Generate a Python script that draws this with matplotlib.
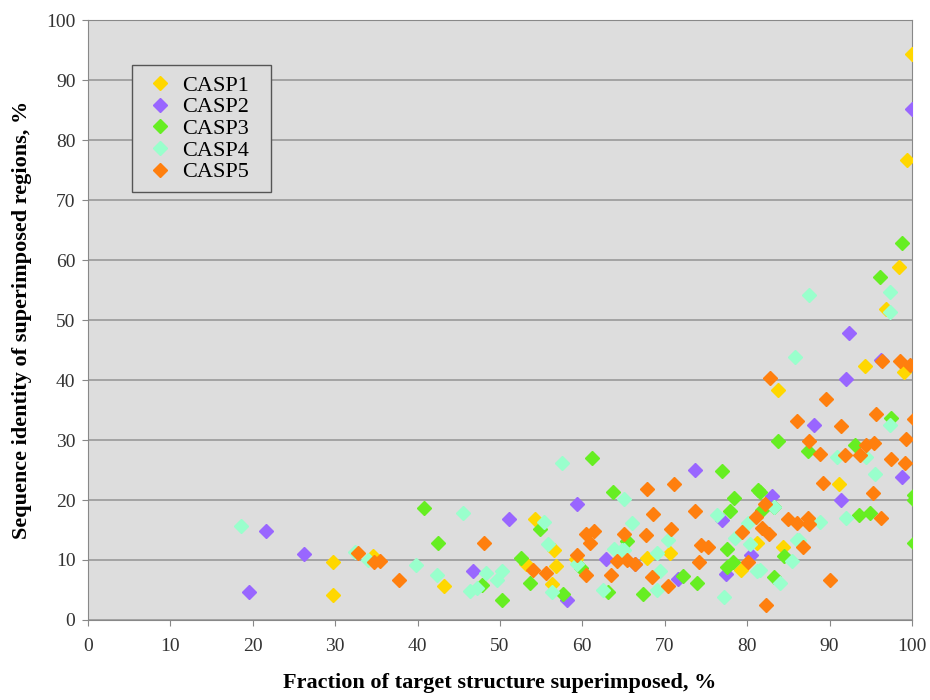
import numpy as np
import matplotlib.pyplot as plt

# values, (x, y) = (fraction %, identity %)
casp1_x = [100, 99.4, 98.4, 96.8, 94.3, 99, 83.7, 91.1, 84.3, 81.2, 79.3, 70.6, 67.8,
           59.2, 56.5, 56.8, 53.2, 56.3, 54.2, 43.2, 29.7, 29.7, 34.6]
casp1_y = [94.3, 76.7, 58.8, 51.9, 42.3, 41.4, 38.3, 22.7, 12.1, 12.8, 8.3, 11.2, 10.3,
           10.2, 11.7, 9.0, 9.3, 6.0, 16.8, 5.6, 9.6, 4.2, 10.6]

casp2_x = [100, 92.3, 92, 88.1, 98.8, 91.4, 83, 96.2, 73.7, 77, 71.6, 77.4, 80.5,
           59.3, 51.1, 46.7, 62.9, 58.1, 21.6, 26.2, 19.5, 66.4]
casp2_y = [85.2, 47.9, 40.1, 32.5, 23.8, 20.0, 20.7, 43.3, 25.0, 16.6, 6.9, 7.6, 10.8,
           19.4, 16.9, 8.2, 10.2, 3.4, 14.9, 11.0, 4.6, 9.4]

casp3_x = [98.8, 96.1, 97.5, 83.7, 93.1, 87.4, 100.2, 100.2, 100.2, 93.6, 94.9, 81.6,
           84.5, 83.3, 77, 81.3, 78.4, 77.9, 65.4, 77.6, 78.3, 77.6, 72.2, 73.9, 67.4,
           81.8, 83.3, 61.2, 63.7, 40.8, 42.5, 54.9, 52.5, 53.6, 50.3, 57.7, 59.8,
           63.1, 47.8]
casp3_y = [62.9, 57.1, 33.6, 29.9, 29.1, 28.2, 20.8, 20.0, 12.9, 17.5, 17.8, 21.4,
           10.7, 7.1, 24.8, 21.6, 20.3, 18.2, 13.1, 11.8, 9.7, 8.9, 7.4, 6.2, 4.3,
           18.3, 18.9, 27.0, 21.4, 18.6, 12.9, 15.2, 10.3, 6.1, 3.3, 4.4, 8.6,
           4.6, 5.8]

casp4_x = [87.5, 97.3, 97.3, 85.8, 97.3, 90.9, 94.4, 95.5, 88.8, 92, 86.3, 85.5, 84,
           83.2, 81.6, 65, 66, 65, 69, 70.4, 69.4, 69, 76.3, 77.2, 78.5, 80.1, 80.3,
           81.2, 86, 57.5, 45.5, 55.4, 55.8, 39.8, 42.4, 48.3, 50.3, 49.7, 46.4,
           47.2, 56.3, 59.3, 63.8, 64.8, 62.5, 18.6, 32.4, 34]
casp4_y = [54.2, 54.6, 51.4, 43.9, 32.5, 27.2, 27.1, 24.4, 16.3, 17.0, 13.4, 9.9, 6.2,
           18.8, 8.4, 20.2, 16.1, 11.7, 11.2, 13.3, 8.1, 5.0, 17.5, 3.8, 13.6, 16.1, 12.7,
           8.2, 13.3, 26.2, 17.9, 16.4, 12.7, 9.2, 7.5, 7.8, 8.2, 6.7, 4.9,
           5.3, 4.7, 9.4, 11.9, 11.7, 5.0, 15.6, 11.4, 10.0]

casp5_x = [96.4, 98.5, 99.8, 82.8, 89.6, 95.6, 100.2, 86.1, 91.4, 99.3, 87.5, 94.4,
           95.4, 88.8, 91.9, 93.7, 97.4, 99.2, 89.2, 95.3, 96.3, 82.2, 84.9, 86, 87.4,
           87.5, 81.8, 82.7, 86.8, 90, 82.3, 67.8, 71.1, 68.6, 73.7, 81.1, 65, 67.7,
           70.8, 74.4, 75.2, 74.1, 79.4, 80.1, 68.4, 70.4, 65.4, 66.4, 48.1, 37.8,
           35.4, 54, 55.6, 59.4, 60.4, 60.5, 61.4, 60.9, 63.5, 64.2, 32.8, 34.7]
casp5_y = [43.2, 43.1, 42.5, 40.3, 36.8, 34.4, 33.5, 33.1, 32.4, 30.1, 29.9, 29.2,
           29.5, 27.6, 27.5, 27.5, 26.8, 26.2, 22.9, 21.1, 17.0, 19.3, 16.8, 16.2, 17.0,
           16.0, 15.3, 14.3, 12.1, 6.6, 2.5, 21.8, 22.6, 17.7, 18.1, 17.2, 14.4, 14.2,
           15.2, 12.5, 12.1, 9.6, 14.6, 9.6, 7.2, 5.7, 10.0, 9.3, 12.9, 6.7,
           9.8, 8.4, 7.9, 10.8, 7.5, 14.3, 14.8, 12.9, 7.5, 9.8, 11.2, 9.7]

names = ['CASP1', 'CASP2', 'CASP3', 'CASP4', 'CASP5']
colors = ['#FFD700', '#9966FF', '#66EE22', '#99FFCC', '#FF7F0E']

plt.rcParams['font.family'] = ['Liberation Serif', 'DejaVu Serif']

fig = plt.figure(figsize=(9.3, 7), dpi=100)
ax = fig.add_axes([0.0946, 0.1143, 0.886, 0.857])
ax.set_facecolor('#DDDDDD')

series = [(casp1_x, casp1_y), (casp2_x, casp2_y), (casp3_x, casp3_y),
          (casp4_x, casp4_y), (casp5_x, casp5_y)]
for (xs, ys), name, c in zip(series, names, colors):
    ax.plot(xs, ys, linestyle='none', marker='D', markersize=6.8,
            color=c, markeredgecolor=c, label=name, zorder=3)

ax.set_xlim(0, 100)
ax.set_ylim(0, 100)
ax.set_xticks(np.arange(0, 101, 10))
ax.set_yticks(np.arange(0, 101, 10))
ax.yaxis.grid(True, color='#999999', linewidth=1.2)
ax.set_axisbelow(True)
for s in ax.spines.values():
    s.set_color('#888888')
ax.tick_params(direction='out', length=4, color='#888888', labelsize=14,
               labelcolor='#333333')
ax.tick_params(axis='x', pad=9)
ax.tick_params(axis='y', pad=5)

ax.set_xlabel('Fraction of target structure superimposed, %', fontsize=16,
              fontweight='bold', labelpad=13)
ax.set_ylabel('Sequence identity of superimposed regions, %', fontsize=16,
              fontweight='bold', labelpad=10)

# legend box stretched to the reference width
leg = ax.legend(loc='upper left', bbox_to_anchor=(0.0534, 0.70, 0.1687, 0.225),
                mode='expand', fontsize=16, frameon=True, fancybox=False,
                framealpha=1, handlelength=1.6, handletextpad=0.2,
                labelspacing=0.05, borderpad=0.45, borderaxespad=0)
leg.get_frame().set_facecolor('#DDDDDD')
leg.get_frame().set_edgecolor('#555555')

fig.savefig('out.png', dpi=100)
